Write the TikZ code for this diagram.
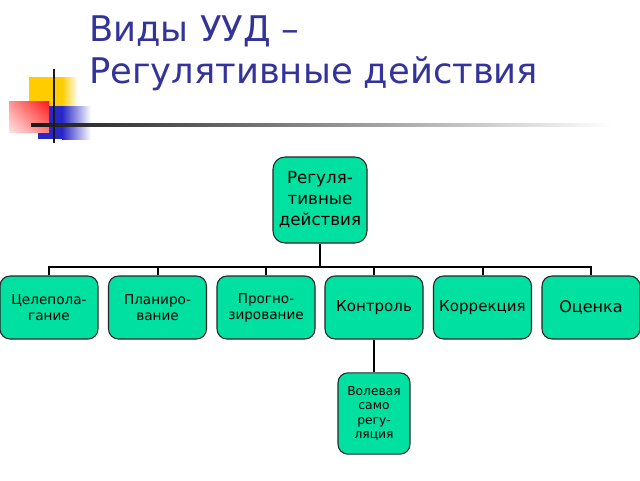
\documentclass[tikz,border=0pt]{standalone}
\usepackage{fontspec}
\setmainfont{DejaVu Sans}
\usetikzlibrary{positioning,shadings}
\definecolor{boxfill}{RGB}{0,224,160}
\definecolor{titleblue}{RGB}{51,51,153}
\definecolor{decoyellow}{RGB}{255,204,0}
\definecolor{decored}{RGB}{255,20,20}
\definecolor{decoblue}{RGB}{40,40,200}
\tikzset{
  orgbox/.style={draw=black!85, line width=0.8pt, fill=boxfill, rounded corners=7.5pt,
     align=center, inner sep=0pt, text=black},
  childbox/.style={orgbox, minimum width=73.5pt, minimum height=47.25pt},
  smalltxt/.style={font=\fontsize{10.2}{12}\selectfont},
  midtxt/.style={font=\fontsize{11.3}{13}\selectfont},
  conn/.style={draw=black, line width=1.5pt},
  thickconn/.style={draw=black, line width=2.2pt},
  titletxt/.style={text=titleblue, font=\fontsize{26.5}{30}\selectfont, anchor=base west, inner sep=0pt}
}
\begin{document}
\begin{tikzpicture}[x=0.75pt,y=-0.75pt]
\useasboundingbox (0,0) rectangle (640,480);
\fill[white] (0,0) rectangle (640,480);
% decoration
\fill[decoyellow] (29,77) rectangle (62,116);
\shade[left color=decoyellow, right color=white] (62,77) rectangle (78,116);
\fill[decoblue] (38,106) rectangle (62,139);
\shade[left color=decoblue, right color=white] (62,106) rectangle (91,139);
\shade[upper right=decored, upper left=decored!45!white, lower right=decored!55!white, lower left=decored!12!white] (9,101) rectangle (49,132);
\shade[left color=black!90, right color=white] (31,123.8) rectangle (612,126.6);
\draw[black!90, line width=1.6pt] (54,69) -- (54,143);
% title
\node[titletxt] (t1) at (89,41) {Виды УУД –};
\node[titletxt] (t2) at (89,83) {Регулятивные действия};
% org chart
\node[orgbox, minimum width=70.5pt, minimum height=64.5pt, font=\fontsize{12.5}{15.8}\selectfont, rounded corners=9pt] (root) at (320,200) {Регуля-\\тивные\\действия};
\node[childbox, smalltxt] (c1) at (49,307.5) {Целепола-\\гание};
\node[childbox, smalltxt] (c2) at (157.5,307.5) {Планиро-\\вание};
\node[childbox, smalltxt] (c3) at (266,307.5) {Прогно-\\зирование};
\node[childbox, midtxt] (c4) at (374,307.5) {Контроль};
\node[childbox, midtxt] (c5) at (482.5,307.5) {Коррекция};
\node[childbox, font=\fontsize{12}{14}\selectfont] (c6) at (591,307.5) {Оценка};
\node[orgbox, minimum width=54pt, minimum height=61pt, font=\fontsize{9.2}{10.9}\selectfont] (vol) at (374,413.5) {Волевая\\само\\регу-\\ляция};
\coordinate (bus) at (320,267);
\draw[thickconn] (root.south) -- (root.south |- bus);
\draw[conn] (c1.north) -- (c1.north |- bus) -- (c6.north |- bus) -- (c6.north);
\foreach \n in {c2,c3,c4,c5} { \draw[conn] (\n.north) -- (\n.north |- bus); }
\draw[thickconn] (c4.south) -- (vol.north);
\end{tikzpicture}
\end{document}
